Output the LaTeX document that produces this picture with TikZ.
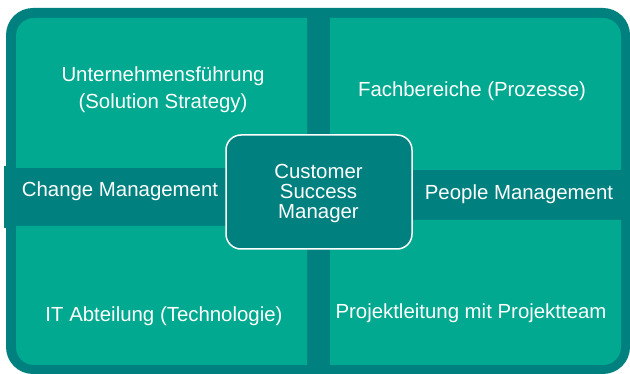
\documentclass[tikz,border=0pt]{standalone}
\usepackage{fontspec}
\setmainfont{Liberation Sans}
\usepackage{tikz}
\usetikzlibrary{positioning}
\definecolor{tealdark}{HTML}{00817F}
\definecolor{teallight}{HTML}{00A98F}

\begin{document}
\begin{tikzpicture}[
  x=1pt, y=-1pt,
  every node/.style={font=\fontsize{20.4}{27}\selectfont, text=white},
  quad/.style={fill=teallight},
  label/.style={align=center, inner sep=0pt},
  hub/.style={draw=white, line width=1.5pt, fill=tealdark, rounded corners=15pt,
              minimum width=186pt, minimum height=114pt, align=center,
              font=\fontsize{20.4}{20}\selectfont},
]
\useasboundingbox (0,0) rectangle (630,374);

% outer frame
\fill[tealdark, rounded corners=27pt] (6,8) rectangle (630,374);
\fill[tealdark] (4,166) rectangle (20,228);

% quadrants
\fill[quad] (16,100) [rounded corners=18pt] |- (160,18) [sharp corners] -| (307,168) -| cycle;
\fill[quad] (621,100) [rounded corners=18pt] |- (470,18) [sharp corners] -| (330,170) -| cycle;
\fill[quad] (16,300) [rounded corners=18pt] |- (160,365) [sharp corners] -| (307,226) -| cycle;
\fill[quad] (621,300) [rounded corners=18pt] |- (470,365) [sharp corners] -| (330,220) -| cycle;

% texts
\node[label] (lead) at (163,89.5) {Unternehmensführung\\(Solution Strategy)};
\node[label] (fach) at (472,91.5) {Fachbereiche (Prozesse)};
\node[label] (change) at (120,191.5) {Change Management};
\node[label] (people) at (519,194.5) {People Management};
\node[label] (itdept) at (164,316.5) {IT Abteilung (Technologie)};
\node[label] (projlead) at (471,313.5) {Projektleitung mit Projektteam};

% center
\node[hub] (csm) at (319,192) {};
\node[label, font=\fontsize{20.4}{20}\selectfont] (csmtext) at (318.5,193.5) {Customer\\Success\\Manager};

\end{tikzpicture}
\end{document}
